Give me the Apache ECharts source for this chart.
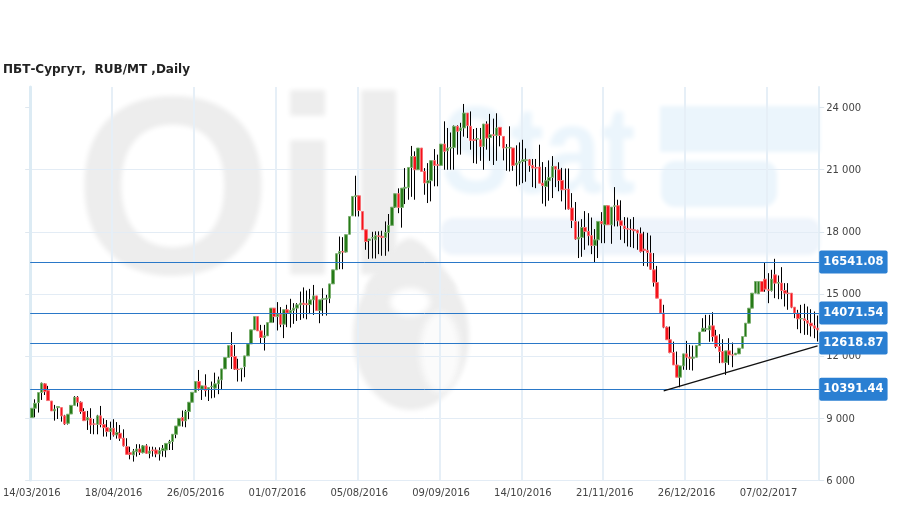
<!DOCTYPE html>
<html><head><meta charset="utf-8">
<style>html,body{margin:0;padding:0;background:#fff}#c{width:909px;height:509px}</style>
<script src="https://cdn.jsdelivr.net/npm/echarts@6/dist/echarts.min.js"></script>
</head><body><div id="c"></div>
<script>
const titleText = 'ПБТ-Сургут,  RUB/MT ,Daily';
const tickLabels = ['14/03/2016','18/04/2016','26/05/2016','01/07/2016','05/08/2016','09/09/2016','14/10/2016','21/11/2016','26/12/2016','07/02/2017'];
const levels = [16541.08, 14071.54, 12618.87, 10391.44];
const trendFrom = [193, 10307];
const trendTo = [240, 12484];
const opens = [9016,9470,9740,10230,10650,10320,9820,9340,9500,9500,9100,8740,9190,9610,10000,9760,9310,8900,8980,8710,8690,9100,8680,8530,8340,8500,8180,8260,8020,7610,7320,7210,7370,7500,7320,7650,7290,7450,7450,7260,7420,7450,7770,7860,8210,8610,9020,8860,9310,9760,
10240,10760,10390,10550,10390,10510,10440,10650,10840,11370,11920,12500,11970,11360,11370,11480,12000,12580,13260,13900,13210,12890,12970,13610,14310,13900,14020,13530,14230,14070,14200,14310,14470,14550,14520,14480,14710,14900,14190,14740,14740,14790,15480,16160,
16940,17050,17020,17880,18770,19710,19740,18980,18100,17580,17700,17610,17800,17780,17730,17970,18310,19190,19840,19180,20110,20150,21110,21640,21000,22050,
20920,20360,20470,21440,21240,21210,22240,21920,22050,22080,23100,22890,23020,23740,23100,22450,22480,22450,22130,23210,22560,22690,22660,23050,22610,22050,22050,22050,21240,21320,21400,
21450,21480,21210,21110,21130,20350,20190,20470,20630,21160,21000,20480,20060,20060,19150,18500,17650,17730,18210,18020,17810,17340,17610,18500,18340,19260,18340,19230,19260,18530,18280,18150,18130,18100,18070,17900,17160,17100,16970,16160,15550,14740,14070,13390,12780,12160,11560,10970,11516,
12097,11936,11887,11936,12500,13178,13291,13259,13452,12968,12452,12210,11678,12242,12049,12049,12097,12371,12936,13581,14307,15033,15001,15597,15710,15194,15162,15920,15517,15517,15162,15033,15033,14355,14065,13791,13791,13710,13581,13452,13339];
const closes = [9468,9710,10230,10680,10270,9840,9340,9420,9550,9100,8710,9180,9610,10000,9760,9310,8870,9020,8660,8700,9100,8680,8530,8340,8500,8180,8300,8020,7650,7240,7240,7400,7500,7340,7650,7290,7400,7420,7260,7420,7530,7770,7860,8210,8610,8980,8860,9310,9760,10240,
10760,10440,10550,10320,10470,10530,10650,10840,11370,11920,12500,11970,11360,11340,11400,12000,12580,13260,13900,13210,12890,12970,13610,14310,13900,14030,13530,14230,14070,14200,14310,14470,14550,14480,14480,14710,14900,14190,14710,14760,14790,15480,16160,16940,
17050,17020,17860,18740,19710,19740,19030,18100,17530,17650,17720,17820,17780,17730,17970,18310,19190,19840,19180,20110,20150,21110,21640,21000,22050,20920,
20360,20470,21440,21210,21220,22240,21890,22050,22070,23100,22860,23020,23740,23130,22420,22420,22500,22130,23210,22530,22690,22660,23020,22660,22050,22080,22080,21210,21320,21400,21480,
21480,21210,21080,21080,20350,20240,20470,20630,21160,21030,20480,20030,20040,19100,18550,17650,17730,18210,18020,17810,17340,17610,18500,18390,19260,18340,19190,19260,18530,18310,18150,18130,18110,18050,17940,17050,17100,17000,16190,15560,14790,14070,13390,12780,12160,11560,10970,11516,12097,
11936,11887,11936,12500,13146,13339,13310,13452,12936,12452,12210,11678,12242,12049,12040,12130,12371,12936,13581,14307,15033,15597,15597,15113,15227,15170,15710,15517,15550,15162,15033,15020,14355,14065,13791,13810,13710,13581,13452,13339,13259];
const highs = [9468,9900,10230,10710,10680,10550,9820,9630,9550,9500,9150,9180,9610,10060,10060,9800,9470,9340,9470,8950,9150,9580,8980,8900,8820,8940,8800,8660,8450,8020,7610,7500,7730,7730,7690,7730,7610,7610,7580,7580,7690,7770,7940,8210,8610,8980,9360,9390,9760,10240,
10760,11320,10550,11110,10470,10760,11190,11000,11370,11920,12500,13150,12530,11860,11400,12000,12580,13260,13900,13900,13500,13500,13610,14310,14310,14600,14360,14230,14470,14760,14550,14550,15110,15310,15160,15240,15430,14900,14710,15270,14950,15480,16160,16940,
17770,17740,17860,18740,19710,20710,19740,18980,18100,17650,18000,18020,18020,18050,18500,18860,19190,19840,20100,20110,21080,21110,22150,21890,22050,22050,
21080,21320,21440,22000,21730,22240,23340,23020,22800,23140,23150,23270,24180,23740,23820,22970,23020,23020,23210,23340,23700,23470,23730,23050,22610,22240,23100,22050,22180,22320,22450,
22030,21520,21520,21520,22210,21370,21130,21450,21660,21160,21360,21090,21060,21060,19870,19440,18500,18610,19000,18900,18690,18130,18500,18950,19260,19260,19190,20160,19550,19520,18710,18690,18610,18710,18100,18210,18000,17950,17820,16970,16350,14740,14470,13420,13420,12690,12210,11516,12097,
12726,12533,12500,12500,13146,13823,13984,13984,14113,13259,13049,12807,12242,12855,12646,12130,12371,12936,13581,14307,15033,15597,15597,15597,16517,16000,16162,16694,15888,16291,15517,15517,15033,14355,14226,14468,14517,14388,14258,14146,13952];
const lows = [9016,9030,9260,9870,10110,9840,9340,8870,8950,8820,8660,8680,9190,9610,9550,9200,8850,8420,8230,8210,8210,8550,8100,8100,7940,8100,8000,7890,7620,7240,7000,6890,7130,7210,7290,7260,7050,7130,7100,6940,7130,7100,7450,7450,8020,8610,8580,8550,8940,9760,
10240,10320,9870,10030,9820,9950,9980,10150,10350,11370,11920,11370,11320,10760,10760,10970,12000,12580,13260,13210,12580,12260,12970,13610,13610,13230,13390,12860,13390,13370,13550,13690,13740,13820,13770,14020,13980,14190,13580,13940,13950,14550,15480,16160,
16190,16190,17000,17880,18770,18740,18740,18100,17130,16690,16710,16710,16920,16840,16840,17050,18310,19150,18900,18200,19340,19550,19690,19550,21000,20920,
19790,19390,19470,20200,20200,21210,21000,21000,21000,21000,21730,21730,22600,22530,21970,21320,21290,21430,21000,21970,21430,21230,21430,22130,21450,20950,20920,20950,20200,20270,20350,
20420,20900,20160,20110,20350,19360,19230,19500,19630,20160,19960,19470,19070,19070,18180,17610,16730,16790,17130,17340,16920,16500,16730,17450,17450,18340,17420,18260,18260,17610,17450,17290,17260,17210,17130,17000,16350,16320,16160,15350,14790,14070,13340,12780,12130,11560,10970,10484,11330,
11323,11323,11291,11936,12500,13178,13178,12680,12694,12371,11650,11650,11081,11565,11452,12049,12097,12371,12936,13581,14307,15033,15001,15113,15100,14549,15113,14791,14743,14743,14388,14230,14307,13823,13291,13097,13017,13017,12936,12855,12694];
const categories = opens.map((_, i) => i % 25 === 0 ? tickLabels[i / 25] : String(i));
const yTicks = [6000, 9000, 12000, 15000, 18000, 21000, 24000];

const wickData = opens.map((o, i) => [o, closes[i], lows[i], highs[i]]);
const bodyData = opens.map((o, i) => [o, closes[i], Math.min(o, closes[i]), Math.max(o, closes[i])]);
const fmt = v => String(v).replace(/\B(?=(\d{3})+$)/g, ' ');

// Watermark: each shape sits off-canvas and only its blurred shadow lands on the plot
const GRAY = '#ededed', BLUE = '#ebf5fc', BLUE2 = '#eef4fb', FAR = 3000;
const blur = (c, b) => ({ fill: c, shadowBlur: b, shadowColor: c, shadowOffsetX: FAR });
const tblur = (c, b) => ({ fill: c, textShadowBlur: b, textShadowColor: c, textShadowOffsetX: FAR });
const wm = (type, shape, style, z) => ({ type, silent: true, z: z || -10, x: -FAR, shape, style });
const graphic = [
  { type: 'text', silent: true, z: -10, x: 74 - FAR, y: 76, style: Object.assign({ text: 'Oil', font: 'bold 255px "Liberation Sans"' }, tblur(GRAY, 5)) },
  wm('ellipse', { cx: 411, cy: 336, rx: 58, ry: 74 }, blur(GRAY, 5)),
  wm('polygon', { points: [[410, 238], [424, 245], [456, 290], [366, 290], [396, 245]], smooth: 0.2 }, blur(GRAY, 5)),
  wm('ellipse', { cx: 410, cy: 302, rx: 20, ry: 14 }, blur('#ffffff', 6), -9),
  wm('ellipse', { cx: 440, cy: 352, rx: 20, ry: 40 }, blur('#fbfbfb', 6), -9),
  { type: 'text', silent: true, z: -10, x: 441 - FAR, y: 97, scaleX: 0.83, style: Object.assign({ text: 'Stat', font: 'bold 124px "Liberation Sans"' }, tblur(BLUE, 5)) },
  wm('rect', { x: 660, y: 106, width: 160, height: 46 }, blur(BLUE, 4)),
  wm('rect', { x: 661, y: 161, width: 116, height: 46, r: 14 }, blur(BLUE, 4)),
  wm('rect', { x: 441, y: 218, width: 379, height: 37, r: 12 }, blur(BLUE2, 4))
];

const levelLines = levels.map(v => ({
  yAxis: v,
  lineStyle: { color: '#2a78c8', width: 1, type: 'solid' },
  label: {
    show: true, position: 'end', distance: 0, formatter: v.toFixed(2),
    color: '#fff', fontFamily: 'DejaVu Sans', fontSize: 11.5, fontWeight: 'bold',
    backgroundColor: '#2a7fd2', padding: [6, 4, 5, 4], borderRadius: 2
  }
}));
const trendLine = [
  { coord: trendFrom, lineStyle: { color: '#111', width: 1.4, type: 'solid' }, label: { show: false } },
  { coord: trendTo }
];

const option = {
  animation: false,
  backgroundColor: '#fff',
  title: { text: titleText, left: 3, top: 64, padding: 0, textStyle: { fontFamily: 'DejaVu Sans', fontSize: 12, fontWeight: 'bold', color: '#222' } },
  graphic,
  grid: { left: 29.7, right: 89.8, top: 87, bottom: 29 },
  xAxis: {
    type: 'category', data: categories, boundaryGap: true,
    axisLine: { show: false },
    axisTick: { show: false, alignWithLabel: true, interval: 24 },
    axisLabel: { interval: 24, margin: 8, fontFamily: 'DejaVu Sans', fontSize: 10, color: '#444', formatter: v => tickLabels.includes(v) ? v : '' },
    splitLine: { show: true, interval: 24, lineStyle: { color: '#e6eff7', width: 2 } }
  },
  yAxis: [
    {
      type: 'value', position: 'right', min: 6000, max: 25000, interval: 3000, scale: true,
      axisLine: { show: true, onZero: false, lineStyle: { color: '#e3eef6', width: 2 } },
      axisTick: { show: true, length: 5, customValues: yTicks, lineStyle: { color: '#dde6ee' } },
      axisLabel: { customValues: yTicks, margin: 7, verticalAlign: 'top', padding: [-4, 0, 0, 0], fontFamily: 'DejaVu Sans', fontSize: 10, color: '#444', formatter: v => fmt(v) },
      splitLine: { show: true, showMaxLine: false, lineStyle: { color: '#e3ecf5', width: 1 } }
    },
    {
      type: 'value', position: 'left', min: 6000, max: 25000, interval: 3000, scale: true,
      axisLine: { show: true, onZero: false, lineStyle: { color: '#dcebf4', width: 3 } },
      axisTick: { show: true, length: 5, customValues: yTicks, lineStyle: { color: '#dfe8f0' } },
      axisLabel: { show: false },
      splitLine: { show: false }
    }
  ],
  series: [
    {
      name: 'range', type: 'candlestick', data: wickData, barWidth: 1, silent: true, z: 3,
      itemStyle: { color: '#000', color0: '#000', borderColor: '#000', borderColor0: '#000', borderColorDoji: '#000', borderWidth: 1 }
    },
    {
      name: 'body', type: 'candlestick', data: bodyData, barWidth: 3, silent: true, z: 4,
      itemStyle: { color: '#267a18', color0: '#f5121a', borderColor: '#7cb071', borderColor0: '#f76f74', borderColorDoji: '#444', borderWidth: 1 },
      markLine: { silent: true, symbol: 'none', animation: false, z: 6, data: levelLines.concat([trendLine]) }
    }
  ]
};
const chart = echarts.init(document.getElementById('c'), null, { renderer: 'canvas' });
chart.setOption(option);
</script></body></html>
